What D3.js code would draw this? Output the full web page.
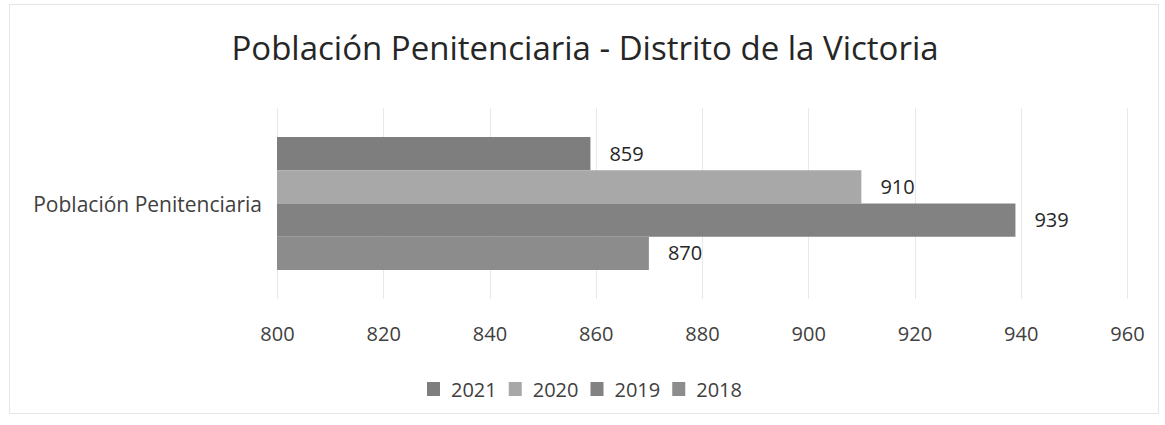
<!DOCTYPE html>
<html>
<head>
<meta charset="utf-8">
<script src="https://cdn.jsdelivr.net/npm/d3@7"></script>
<style>
  body { margin: 0; background: #fff; }
  svg { font-family: "Open Sans", "Noto Sans", sans-serif; }
</style>
</head>
<body>
<div id="chart"></div>
<script>
// data
const category = "Población Penitenciaria";
const years = ["2021", "2020", "2019", "2018"];
const values = [859, 910, 939, 870];
const colors = ["#7e7e7e", "#a8a8a8", "#828282", "#8c8c8c"];
const xTicks = [800, 820, 840, 860, 880, 900, 920, 940, 960];

const W = 1165, H = 425;
const plot = {left: 277, right: 1127, top: 108, bottom: 299};

const svg = d3.select("#chart").append("svg")
  .attr("width", W).attr("height", H);

// frame
svg.append("rect")
  .attr("x", 9.5).attr("y", 4.5).attr("width", W - 16).attr("height", 409)
  .attr("fill", "none").attr("stroke", "#e6e6e6");

svg.append("text")
  .attr("x", 585).attr("y", 60)
  .attr("text-anchor", "middle")
  .attr("font-size", 33)
  .attr("fill", "#262626")
  .text("Población Penitenciaria - Distrito de la Victoria");

const x = d3.scaleLinear().domain([800, 960]).range([plot.left, plot.right]);

// gridlines
svg.append("g").selectAll("line").data(xTicks).enter().append("line")
  .attr("x1", d => Math.round(x(d)) + 0.5).attr("x2", d => Math.round(x(d)) + 0.5)
  .attr("y1", plot.top).attr("y2", plot.bottom)
  .attr("stroke", "#e8e8e8").attr("stroke-width", 1);

// bars
const yCat = d3.scaleBand().domain([category]).range([plot.top, plot.bottom])
  .paddingInner(0).paddingOuter(0.218);
const ySer = d3.scaleBand().domain(years)
  .range([yCat(category), yCat(category) + yCat.bandwidth()]);

const bars = svg.append("g");
bars.selectAll("rect").data(years).enter().append("rect")
  .attr("x", x(800))
  .attr("y", d => ySer(d))
  .attr("width", (d, i) => x(values[i]) - x(800))
  .attr("height", ySer.bandwidth())
  .attr("fill", (d, i) => colors[i]);

bars.selectAll("text").data(years).enter().append("text")
  .attr("x", (d, i) => x(values[i]) + 19)
  .attr("y", d => ySer(d) + ySer.bandwidth() / 2 + 7)
  .attr("font-size", 20)
  .attr("fill", "#262626")
  .text((d, i) => values[i]);

// category label
svg.append("text")
  .attr("x", 262).attr("y", yCat(category) + yCat.bandwidth() / 2 + 8)
  .attr("text-anchor", "end")
  .attr("font-size", 21)
  .attr("fill", "#404040")
  .text(category);

// x axis
const xAxis = d3.axisBottom(x).tickValues(xTicks).tickSize(0).tickPadding(0);
const gx = svg.append("g").attr("transform", "translate(0,341)").call(xAxis);
gx.select(".domain").remove();
gx.selectAll("text")
  .attr("dy", 0)
  .attr("font-size", 20)
  .attr("font-family", "Open Sans, sans-serif")
  .attr("fill", "#404040");

// legend
const legend = svg.append("g").attr("transform", "translate(427,397)");
let lx = 0;
years.forEach((d, i) => {
  const g = legend.append("g").attr("transform", `translate(${lx},0)`);
  g.append("rect")
    .attr("x", 0).attr("y", -15).attr("width", 13).attr("height", 14)
    .attr("fill", colors[i]);
  const t = g.append("text")
    .attr("x", 24).attr("y", 0)
    .attr("font-size", 20)
    .attr("fill", "#404040")
    .text(d);
  lx += 24 + t.node().getComputedTextLength() + 12;
});
</script>
</body>
</html>
